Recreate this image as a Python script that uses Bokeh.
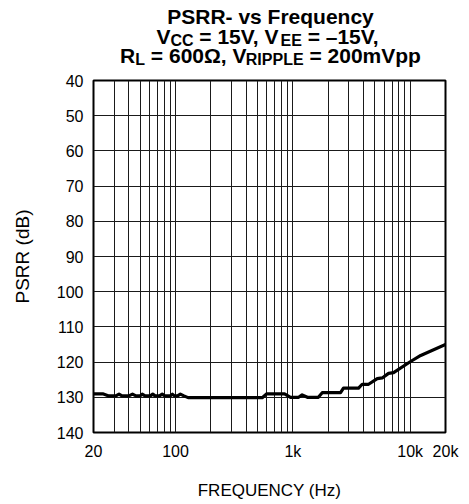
from bokeh.plotting import figure
from bokeh.models import Range1d, FixedTicker, Label
from bokeh.layouts import column
from bokeh.embed import file_html
from bokeh.resources import INLINE

# ---- data ----
freq = [20, 24, 27, 31, 33, 35, 40, 43, 46, 50, 52, 55, 61, 64, 67, 73, 77, 81,
        90, 94, 98, 104, 110, 118, 128, 548, 600, 850, 955, 1120, 1200, 1330,
        1650, 1780, 2550, 2700, 3630, 3900, 4420, 5240, 5780, 6540, 7220,
        10000, 12300, 20000]
psrr = [129.0, 129.0, 129.6, 129.6, 129.1, 129.6, 129.6, 129.1, 129.6, 129.6,
        129.1, 129.6, 129.6, 129.1, 129.6, 129.6, 129.1, 129.6, 129.6, 129.1,
        129.6, 129.6, 129.1, 129.6, 130.1, 130.1, 129.0, 129.0, 130.0, 130.0,
        129.3, 130.0, 130.0, 128.7, 128.7, 127.4, 127.4, 126.3, 126.3, 124.7,
        124.5, 123.2, 123.0, 119.9, 118.1, 115.0]

x_ticks = [20, 100, 1000, 10000, 20000]
x_tick_labels = ["20", "100", "1k", "10k", "20k"]
x_grid = [20, 30, 40, 50, 60, 70, 80, 90, 100, 200, 300, 400, 500, 600, 700,
          800, 900, 1000, 2000, 3000, 4000, 5000, 6000, 7000, 8000, 9000,
          10000, 20000]
y_ticks = [40, 50, 60, 70, 80, 90, 100, 110, 120, 130, 140]

title_line1 = [("PSRR- vs Frequency", False)]
title_line2 = [("V", False), ("CC", True), (" = 15V, V", False), ("EE", True),
               (" = \u201315V,", False)]
title_line3 = [("R", False), ("L", True), (" = 600\u03a9, V", False),
               ("RIPPLE", True), (" = 200mVpp", False)]

FONT = "Liberation Sans"
W, TITLE_H, MAIN_H = 469, 72, 432
FL, FR = 93, 445   # frame left / right in page pixels

# ---- title panel ----
t = figure(width=W, height=TITLE_H, x_range=Range1d(FL, FR),
           y_range=Range1d(0, TITLE_H), output_backend="svg",
           toolbar_location=None, x_axis_location=None, y_axis_location=None,
           min_border_left=FL, min_border_right=W - FR,
           min_border_top=0, min_border_bottom=0)
try:
    t.title = None
except Exception:
    t.title.visible = False
t.outline_line_color = None
t.xgrid.visible = False
t.ygrid.visible = False

WID = {" ": 278, ",": 278, "-": 333, "=": 584, "\u2013": 556, "V": 667,
       "C": 722, "E": 667, "R": 722, "L": 611, "I": 278, "P": 667, "S": 667,
       "\u03a9": 768, "m": 889, "p": 611, "v": 556, "s": 556, "F": 611,
       "r": 389, "e": 556, "q": 611, "u": 611, "n": 611, "c": 556, "y": 556}
MAIN, SUB, SUB_DY = 21, 16, -4


def tw(s, size):
    return sum(WID.get(ch, 556) for ch in s) / 1000.0 * size


def place(segments, cx, base_y):
    sizes = [SUB if sub else MAIN for _, sub in segments]
    total = sum(tw(txt, s) for (txt, _), s in zip(segments, sizes))
    x = cx - total / 2.0
    for (txt, sub), s in zip(segments, sizes):
        lead = len(txt) - len(txt.lstrip(" "))
        core = txt.strip(" ")
        t.add_layout(Label(x=x + tw(" " * lead, s),
                           y=base_y + (SUB_DY if sub else 0), text=core,
                           text_font=FONT, text_font_style="bold",
                           text_font_size=f"{s}px", text_color="black",
                           text_align="left", text_baseline="alphabetic"))
        x += tw(txt, s)


place(title_line1, 270, TITLE_H - 15.7)
place(title_line2, 268, TITLE_H - 35.7)
place(title_line3, 270, TITLE_H - 55)

# ---- main chart ----
p = figure(width=W, height=MAIN_H, x_axis_type="log",
           x_range=Range1d(20, 20000), y_range=Range1d(140, 40),
           output_backend="svg", toolbar_location=None,
           min_border_left=FL, min_border_right=W - FR,
           min_border_top=8, min_border_bottom=72)
p.title.visible = False
p.outline_line_color = "black"
p.outline_line_width = 2
p.outline_line_alpha = 1

p.xaxis.ticker = FixedTicker(ticks=x_ticks)
p.xaxis.major_label_overrides = {tk: lb for tk, lb in zip(x_ticks, x_tick_labels)}
p.yaxis.ticker = FixedTicker(ticks=y_ticks)
for ax in (p.xaxis, p.yaxis):
    ax.major_tick_in = 0
    ax.major_tick_out = 0
    ax.minor_tick_in = 0
    ax.minor_tick_out = 0
    ax.axis_line_color = None
    ax.major_label_text_font = FONT
    ax.major_label_text_font_size = "16px"
    ax.major_label_text_color = "black"
    ax.axis_label_text_font = FONT
    ax.axis_label_text_font_style = "normal"
    ax.axis_label_text_color = "black"
p.xaxis.axis_label_text_font_size = "17px"
p.yaxis.axis_label_text_font_size = "19px"
p.xaxis.major_label_standoff = 10
p.yaxis.major_label_standoff = 10
p.xaxis.axis_label = "FREQUENCY (Hz)"
p.yaxis.axis_label = "PSRR (dB)"
p.xaxis.axis_label_standoff = 18
p.yaxis.axis_label_standoff = 21

p.xgrid.ticker = FixedTicker(ticks=x_grid)
p.ygrid.ticker = FixedTicker(ticks=y_ticks)
for g in (p.xgrid, p.ygrid):
    g.grid_line_color = "#1a1a1a"
    g.grid_line_width = 1
    g.grid_line_alpha = 1

p.line(freq, psrr, line_color="black", line_width=3.2, line_join="round")

layout = column(t, p, spacing=0)
open("out.html", "w").write(file_html(layout, INLINE))
